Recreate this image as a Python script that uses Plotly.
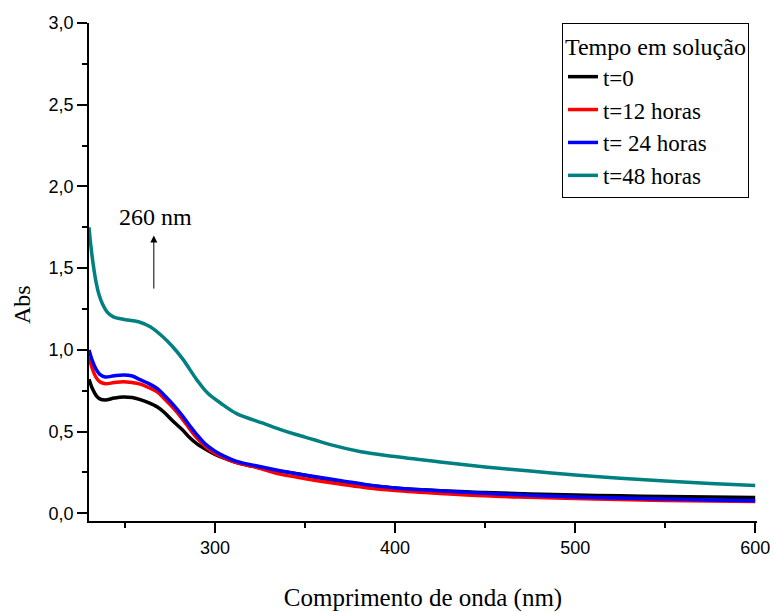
import plotly.graph_objects as go

# Wavelength grids (nm) and absorbance readings for each time in solution
wl_t0 = [230, 232, 234, 236, 239, 244, 249, 254, 258, 263, 268, 272, 277, 282, 286, 290,
         295, 300, 305, 312, 321, 330, 344, 355, 370, 385, 400, 425, 450, 475, 500, 525,
         550, 575, 600]
abs_t0 = [0.82, 0.76, 0.72, 0.70, 0.693, 0.705, 0.712, 0.708, 0.697, 0.677, 0.65, 0.615,
          0.56, 0.51, 0.462, 0.425, 0.39, 0.36, 0.337, 0.31, 0.287, 0.268, 0.245,
          0.222, 0.195, 0.172, 0.155, 0.138, 0.128, 0.118, 0.112, 0.107, 0.103, 0.10, 0.097]

wl_t12 = [230, 232, 234, 236, 239, 244, 249, 254, 258, 263, 268, 272, 277, 282, 286, 290,
          295, 300, 305, 312, 321, 336, 345, 355, 370, 385, 400, 425, 450, 475, 500, 525,
          550, 575, 600]
abs_t12 = [0.955, 0.88, 0.83, 0.805, 0.793, 0.80, 0.805, 0.80, 0.792, 0.77, 0.742, 0.70,
           0.642, 0.575, 0.515, 0.46, 0.405, 0.366, 0.34, 0.31, 0.287, 0.24, 0.222,
           0.202, 0.178, 0.155, 0.14, 0.122, 0.107, 0.098, 0.09, 0.084, 0.079, 0.075, 0.072]

wl_t24 = [230, 232, 234, 236, 239, 244, 249, 254, 258, 263, 268, 272, 277, 282, 286, 290,
          295, 300, 305, 312, 321, 336, 345, 355, 370, 385, 400, 425, 450, 475, 500, 525,
          550, 575, 600]
abs_t24 = [1.0, 0.93, 0.88, 0.85, 0.834, 0.842, 0.847, 0.84, 0.82, 0.795, 0.763, 0.72,
           0.662, 0.595, 0.535, 0.48, 0.42, 0.38, 0.35, 0.318, 0.295, 0.261, 0.243,
           0.225, 0.20, 0.174, 0.155, 0.138, 0.123, 0.11, 0.10, 0.093, 0.087, 0.082, 0.077]

wl_t48 = [230, 231, 232.5, 234, 235.5, 237.5, 240, 243.5, 249, 257.5, 264, 271, 276, 282,
          290, 296, 303, 312, 327, 336, 345, 355, 364, 381, 400, 425, 450, 475, 500, 525,
          550, 575, 600]
abs_t48 = [1.75, 1.64, 1.51, 1.41, 1.34, 1.28, 1.233, 1.202, 1.187, 1.172, 1.141, 1.08,
           1.025, 0.945, 0.815, 0.734, 0.675, 0.61, 0.55, 0.514, 0.482, 0.45, 0.42, 0.377,
           0.347, 0.314, 0.284, 0.259, 0.235, 0.215, 0.198, 0.183, 0.17]

series = [
    ("t=0", wl_t0, abs_t0, "#000000"),
    ("t=12 horas", wl_t12, abs_t12, "#ff0000"),
    ("t= 24 horas", wl_t24, abs_t24, "#0000ff"),
    ("t=48 horas", wl_t48, abs_t48, "#008080"),
]

x_ticks = [300, 400, 500, 600]
y_ticks = [0.0, 0.5, 1.0, 1.5, 2.0, 2.5, 3.0]

SANS = "Liberation Sans"
SERIF = "Liberation Serif"

fig = go.Figure()
for name, wl, ab, color in series:
    fig.add_trace(go.Scatter(
        x=wl, y=ab, name=name, mode="lines",
        line=dict(color=color, width=3.5, shape="spline", smoothing=1.0),
    ))

axis_common = dict(
    showline=True, linecolor="black", linewidth=1.5,
    showgrid=False, zeroline=False, automargin=False,
    ticks="outside", ticklen=10, tickwidth=1.5, tickcolor="black",
    tickfont=dict(family=SANS, size=18, color="black"),
)

fig.update_layout(
    width=774, height=612,
    margin=dict(l=89, r=17, t=23, b=91, autoexpand=False),
    paper_bgcolor="white", plot_bgcolor="white",
    separators=", ",
    showlegend=True,
    xaxis=dict(
        range=[230, 601], tickvals=x_ticks,
        minor=dict(tickvals=[250, 350, 450, 550], ticks="outside", ticklen=5,
                   tickwidth=1.5, tickcolor="black"),
        title=dict(text="Comprimento de onda (nm)",
                   font=dict(family=SERIF, size=25, color="black"), standoff=34),
        **axis_common,
    ),
    yaxis=dict(
        range=[-0.047, 3.0], tickvals=y_ticks, tickformat=".1f",
        minor=dict(tickvals=[0.25, 0.75, 1.25, 1.75, 2.25, 2.75], ticks="outside",
                   ticklen=5, tickwidth=1.5, tickcolor="black"),
        **axis_common,
    ),
    xaxis2=dict(
        overlaying="x", side="top", range=[230, 601], dtick=50, tick0=0,
        showline=True, linecolor="black", linewidth=1.5, showgrid=False,
        zeroline=False, ticks="outside", ticklen=3, tickwidth=1,
        tickcolor="black", showticklabels=False, automargin=False,
    ),
    yaxis2=dict(
        overlaying="y", side="right", range=[-0.047, 3.0], dtick=0.25, tick0=0,
        showline=True, linecolor="black", linewidth=1.5, showgrid=False,
        zeroline=False, ticks="outside", ticklen=3, tickwidth=1,
        tickcolor="black", showticklabels=False, automargin=False,
    ),
    legend=dict(
        x=0.988, xanchor="right", y=1.0, yanchor="top",
        bordercolor="black", borderwidth=1, bgcolor="white",
        font=dict(family=SERIF, size=23, color="black"),
        title=dict(text="Tempo em solução",
                   font=dict(family=SERIF, size=24, color="black")),
        traceorder="normal", tracegroupgap=0,
    ),
)

# Y-axis title, placed slightly below the plot's vertical centre
fig.add_annotation(
    x=-0.1, y=0.434, xref="paper", yref="paper", text="Abs", textangle=-90,
    showarrow=False, xanchor="center", yanchor="middle",
    font=dict(family=SERIF, size=24, color="black"),
)

# Arrow marking the 260 nm band growth
fig.add_annotation(
    x=266, y=1.70, ax=266, ay=1.366, xref="x", yref="y", axref="x", ayref="y",
    text="", showarrow=True, arrowhead=2, arrowsize=1.4, arrowwidth=1,
    arrowcolor="black",
)
fig.add_annotation(
    x=266.8, y=1.812, xref="x", yref="y", text="260 nm", showarrow=False,
    font=dict(family=SERIF, size=24, color="black"),
)

fig.write_html("out.html")
